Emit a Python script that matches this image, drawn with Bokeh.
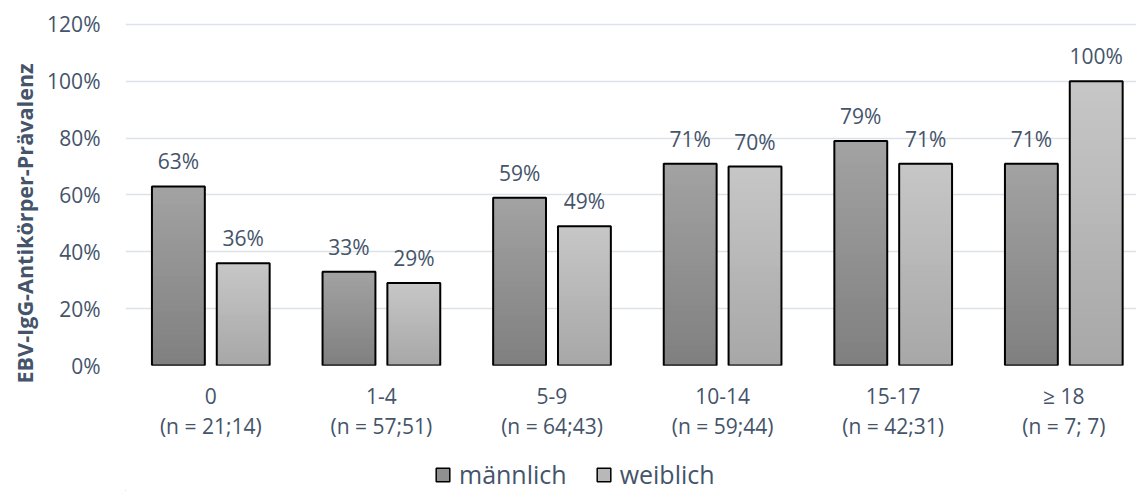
from bokeh.plotting import figure
from bokeh.layouts import column
from bokeh.models import (ColumnDataSource, Range1d, FixedTicker, NumeralTickFormatter, Legend,
                          LegendItem, Title, LinearAxis)
from bokeh.embed import file_html
from bokeh.resources import INLINE
from bokeh.core.properties import value

categories = ["0", "1-4", "5-9", "10-14", "15-17", "\u2265 18"]
sample_sizes = ["(n = 21;14)", "(n = 57;51)", "(n = 64;43)", "(n = 59;44)", "(n = 42;31)", "(n = 7; 7)"]
maennlich = [0.63, 0.33, 0.59, 0.71, 0.79, 0.71]
weiblich = [0.36, 0.29, 0.49, 0.70, 0.71, 1.00]
series_names = ["m\u00e4nnlich", "weiblich"]
y_ticks = [0, 0.2, 0.4, 0.6, 0.8, 1.0, 1.2]

FONT = "Open Sans"
TXT = "#44546A"
W = 1136
H_MAIN, H_LEG = 447, 44
LEFT, TOP = 125, 22
BOTTOM = H_MAIN - 365
UNIT = 170.6

p = figure(width=W, height=H_MAIN, output_backend="svg", toolbar_location=None,
           x_range=Range1d(0, (W - LEFT) / UNIT), y_range=Range1d(0, 1.207),
           min_border_left=LEFT, min_border_right=0, min_border_top=TOP,
           min_border_bottom=BOTTOM)
p.outline_line_color = None
p.xgrid.grid_line_color = None
p.ygrid.grid_line_color = "#DDE1E8"
p.ygrid.grid_line_width = 1.5
p.ygrid.ticker = FixedTicker(ticks=y_ticks)

BW = 0.31
OFF = 0.19
N = 30

def draw_series(vals, offset, c_bottom, c_top):
    xs = [i + 0.5 + offset for i in range(len(vals))]
    # gradient: overlapping bars from full height (top color) to shortest (bottom color)
    for k in range(N):
        frac = (N - k) / N
        t = (N - 1 - k) / (N - 1)
        g = int(round(c_bottom + (c_top - c_bottom) * t))
        col = "#%02x%02x%02x" % (g, g, g)
        src = ColumnDataSource(dict(x=xs, top=[v * frac for v in vals]))
        p.vbar(x="x", top="top", bottom=0, width=BW, source=src,
               fill_color=col, line_color=None)
    src = ColumnDataSource(dict(x=xs, top=vals,
                                lab=["%d%%" % round(v * 100) for v in vals]))
    p.vbar(x="x", top="top", bottom=0, width=BW, source=src,
           fill_color=None, line_color="black", line_width=2)
    p.text(x="x", y="top", text="lab", source=src, text_align="center",
           text_baseline="middle", y_offset=-25, text_color=TXT,
           text_font=value(FONT), text_font_size="21px")

draw_series(maennlich, -OFF, 0x80, 0xa2)
draw_series(weiblich, OFF, 0xa8, 0xc6)

# y axis
p.yaxis.ticker = FixedTicker(ticks=y_ticks)
p.yaxis.formatter = NumeralTickFormatter(format="0%")
p.yaxis.axis_line_color = None
p.yaxis.major_tick_line_color = None
p.yaxis.minor_tick_line_color = None
p.yaxis.major_label_standoff = 19
p.yaxis.major_label_text_font = FONT
p.yaxis.major_label_text_font_size = "21px"
p.yaxis.major_label_text_color = TXT

ytitle = Title(text="EBV-IgG-Antik\u00f6rper-Pr\u00e4valenz", align="left", offset=-18,
               text_font=FONT, text_font_style="bold", text_font_size="21.6px",
               text_color=TXT, standoff=12)
p.add_layout(ytitle, "left")

# x axes: category row and sample-size row
xt = [i + 0.5 for i in range(len(categories))]

def style_x(ax, labels, standoff):
    ax.ticker = FixedTicker(ticks=xt)
    ax.major_label_overrides = {x: s for x, s in zip(xt, labels)}
    ax.axis_line_color = None
    ax.major_tick_line_color = None
    ax.minor_tick_line_color = None
    ax.major_tick_out = 0
    ax.major_label_standoff = standoff
    ax.major_label_text_font = FONT
    ax.major_label_text_font_size = "21px"
    ax.major_label_text_color = TXT

style_x(p.xaxis[0], categories, 16)
ax2 = LinearAxis()
style_x(ax2, sample_sizes, -1)
p.add_layout(ax2, "below")

# legend in its own strip below
pl = figure(width=W, height=H_LEG, output_backend="svg", toolbar_location=None,
            x_range=Range1d(0, 1), y_range=Range1d(0, 1),
            min_border_left=0, min_border_right=0, min_border_top=0, min_border_bottom=0)
pl.axis.visible = False
pl.grid.visible = False
pl.outline_line_color = None
lm = pl.vbar(x=[-10], top=[0], width=0.1, fill_color="#909090", line_color="black", line_width=1.5)
lw = pl.vbar(x=[-10], top=[0], width=0.1, fill_color="#b8b8b8", line_color="black", line_width=1.5)
legend = Legend(items=[LegendItem(label=series_names[0], renderers=[lm]),
                       LegendItem(label=series_names[1], renderers=[lw])],
                orientation="horizontal", location=(309, 0),
                label_text_font=FONT, label_text_font_size="25px", label_text_color=TXT,
                glyph_width=17, glyph_height=17, spacing=28, padding=0, margin=0,
                label_standoff=8, border_line_color=None, background_fill_alpha=0)
pl.add_layout(legend, "center")

open("out.html", "w").write(file_html(column(p, pl, spacing=0), INLINE))
